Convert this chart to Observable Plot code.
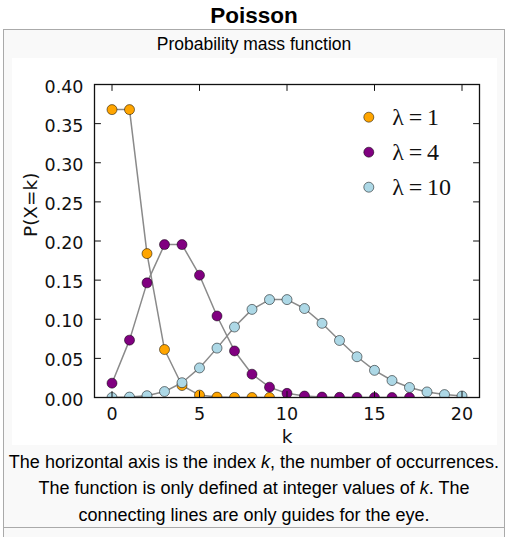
<!DOCTYPE html>
<html>
<head>
<meta charset="utf-8">
<script src="https://cdn.jsdelivr.net/npm/d3@7"></script>
<script src="https://cdn.jsdelivr.net/npm/@observablehq/plot@0.6"></script>
<style>
  html, body { margin: 0; padding: 0; background: #fff; }
  body { width: 512px; height: 537px; position: relative; overflow: hidden;
         font-family: "Liberation Sans", Arial, sans-serif; color: #000; }
  #title { position: absolute; left: 3px; width: 502px; top: 5px; text-align: center;
           font-weight: bold; font-size: 22.5px; line-height: 22.5px; }
  #box { position: absolute; left: 3px; top: 29px; width: 500px; height: 540px;
         border: 1px solid #aaa; background: #f9f9f9; }
  #subtitle { position: absolute; left: 3px; width: 502px; top: 36px; text-align: center;
              font-size: 17.5px; line-height: 17.5px; }
  #chart { position: absolute; left: 12px; top: 58px; width: 485px; height: 387px; background: #fff; }
  #chart svg { display: block; }
  #caption { position: absolute; left: 3px; width: 502px; top: 448.7px; text-align: center;
             font-size: 18px; line-height: 26.7px; }
  #sep { position: absolute; left: 3px; width: 501px; top: 527px; height: 0; border-top: 1px solid #aaa; }
</style>
</head>
<body>
<div id="title"></div>
<div id="box"></div>
<div id="subtitle"></div>
<div id="chart"></div>
<div id="caption"></div>
<div id="sep"></div>
<script>
// ---- data ----
const titleText = "Poisson";
const subtitleText = "Probability mass function";
const captionLines = [
  "The horizontal axis is the index <i>k</i>, the number of occurrences.",
  "The function is only defined at integer values of <i>k</i>. The",
  "connecting lines are only guides for the eye."
];
const xLabel = "k";
const yLabel = "P(X=k)";
const xTicks = [0, 5, 10, 15, 20];
const yTicks = [0, 0.05, 0.10, 0.15, 0.20, 0.25, 0.30, 0.35, 0.40];
const lambdas = [1, 4, 10];
const seriesColors = ["#FFA500", "#800080", "#ADD8E6"];
const pLambda1 = [0.3679, 0.3679, 0.1839, 0.0613, 0.0153, 0.0031, 0.0005, 0.0001, 0.0000, 0.0000];
const pLambda4 = [0.0183, 0.0733, 0.1465, 0.1954, 0.1954, 0.1563, 0.1042, 0.0595, 0.0298, 0.0132,
                  0.0053, 0.0019, 0.0006, 0.0002, 0.0001, 0.0000, 0.0000, 0.0000];
const pLambda10 = [0.0000, 0.0005, 0.0023, 0.0076, 0.0189, 0.0378, 0.0631, 0.0901, 0.1126, 0.1251,
                   0.1251, 0.1137, 0.0948, 0.0729, 0.0521, 0.0347, 0.0217, 0.0128, 0.0071, 0.0037, 0.0019];
const seriesValues = [pLambda1, pLambda4, pLambda10];

// ---- text ----
document.getElementById("title").textContent = titleText;
document.getElementById("subtitle").textContent = subtitleText;
document.getElementById("caption").innerHTML = captionLines.join("<br>");

// ---- build tables ----
const series = lambdas.map((lam, i) => ({
  lambda: lam,
  color: seriesColors[i],
  rows: seriesValues[i].map((p, k) => ({k, p, lambda: lam}))
}));

const tickShape = { draw(ctx, l) { ctx.moveTo(0, 0); ctx.lineTo(0, -l); } };
const tickLen = 6;
const xDomain = [-1, 21];
const yDomain = [0, 0.4];
const ink = "#111";

const marks = [];
for (const s of series) {
  marks.push(Plot.line(s.rows, {x: "k", y: "p", stroke: "#8a8a8a", strokeWidth: 1.5, clip: true}));
  marks.push(Plot.dot(s.rows, {x: "k", y: "p", r: 5, fill: s.color, stroke: "#000",
    strokeOpacity: 0.5, strokeWidth: 1, clip: true}));
}

// frame and inward ticks on all four sides
marks.push(Plot.frame({stroke: ink, strokeWidth: 1.3}));
marks.push(Plot.vector(xTicks, {x: d => d, y: () => yDomain[0], rotate: 0, length: tickLen, anchor: "start", shape: tickShape, stroke: ink, strokeWidth: 1}));
marks.push(Plot.vector(xTicks, {x: d => d, y: () => yDomain[1], rotate: 180, length: tickLen, anchor: "start", shape: tickShape, stroke: ink, strokeWidth: 1}));
marks.push(Plot.vector(yTicks, {y: d => d, x: () => xDomain[0], rotate: 90, length: tickLen, anchor: "start", shape: tickShape, stroke: ink, strokeWidth: 1}));
marks.push(Plot.vector(yTicks, {y: d => d, x: () => xDomain[1], rotate: 270, length: tickLen, anchor: "start", shape: tickShape, stroke: ink, strokeWidth: 1}));

// tick labels
marks.push(Plot.axisX(xTicks, {tickSize: 0, tickPadding: 10, label: null, fill: ink}));
marks.push(Plot.axisY(yTicks, {tickSize: 0, tickPadding: 11, label: null, tickFormat: d3.format(".2f"), dy: 2.5, fill: ink}));

// axis titles
marks.push(Plot.text([xLabel], {frameAnchor: "bottom", text: d => d, lineAnchor: "middle", dy: 40, fontSize: 18.5, fill: ink}));
marks.push(Plot.text([yLabel], {frameAnchor: "left", text: d => d, rotate: -90, lineAnchor: "middle", dx: -63.4, dy: -4, fontSize: 18.5, fill: ink}));

// legend (top-right inside the frame)
series.forEach((s, i) => {
  const dy = 32.7 + i * 35;
  marks.push(Plot.dot([s.lambda], {frameAnchor: "top-right", dx: -110.7, dy, r: 5, fill: s.color, stroke: "#000", strokeOpacity: 0.5, strokeWidth: 1}));
  marks.push(Plot.text([s.lambda], {frameAnchor: "top-right", dx: -87.3, dy: dy + 0.5, text: d => `λ\u2009=\u2009${d}`,
    textAnchor: "start", lineAnchor: "middle", fontFamily: "Liberation Serif", fontSize: 24, fill: ink}));
});

const chart = Plot.plot({
  width: 485,
  height: 387,
  marginLeft: 82,
  marginRight: 18,
  marginTop: 26,
  marginBottom: 48,
  x: {domain: xDomain},
  y: {domain: yDomain},
  style: {fontFamily: "DejaVu Sans", fontSize: "17.5px", background: "transparent", color: ink, overflow: "visible"},
  marks
});
document.getElementById("chart").appendChild(chart);
</script>
</body>
</html>
